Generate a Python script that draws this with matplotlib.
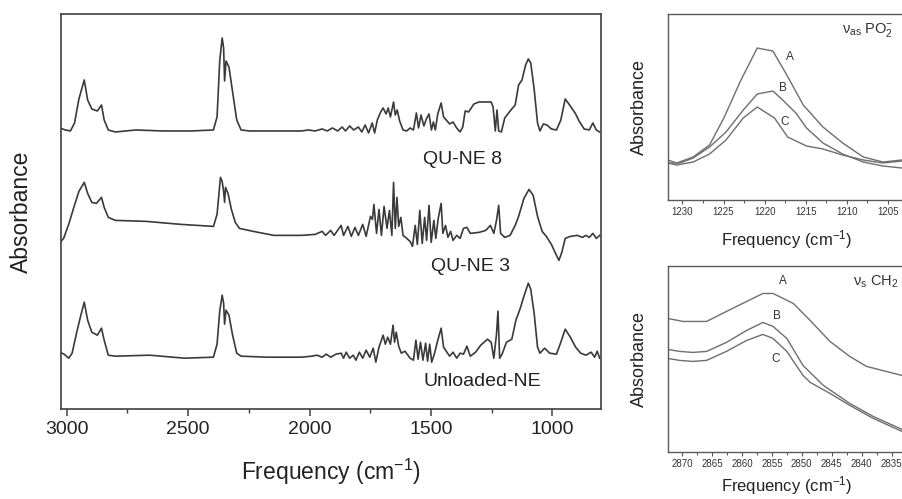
import matplotlib
matplotlib.use("Agg")
import matplotlib.pyplot as plt
from matplotlib.ticker import MultipleLocator

plt.rcParams['font.family'] = ['Liberation Sans', 'DejaVu Sans']
plt.rcParams['mathtext.default'] = 'regular'

# --- main FTIR spectra (wavenumber cm-1, absorbance a.u., stacked) ---
wn_ne8 = [3028, 3006, 2985, 2968, 2950, 2928, 2914, 2897, 2874, 2857, 2846, 2829,
          2800, 2715, 2602, 2488, 2396, 2381, 2370, 2360, 2354, 2350, 2344, 2332,
          2317, 2300, 2282, 2246, 2033, 2005, 1977, 1948, 1927, 1906, 1884, 1866,
          1852, 1835, 1818, 1799, 1785, 1771, 1757, 1742, 1732, 1721, 1707, 1697,
          1685, 1676, 1667, 1654, 1647, 1639, 1629, 1615, 1600, 1586, 1572, 1560,
          1551, 1541, 1529, 1519, 1508, 1498, 1490, 1482, 1472, 1458, 1448, 1437,
          1423, 1409, 1394, 1380, 1369, 1359, 1345, 1323, 1302, 1252, 1244, 1235,
          1228, 1221, 1210, 1196, 1174, 1153, 1139, 1125, 1110, 1099, 1089, 1075,
          1061, 1051, 1037, 1022, 1004, 983, 965, 947, 926, 904, 890, 869, 848,
          833, 819, 805]
ab_ne8 = [0.03, 0.01, 0.00, 0.08, 0.32, 0.51, 0.31, 0.22, 0.20, 0.26, 0.11, 0.01,
          -0.01, 0.01, 0.00, 0.00, 0.01, 0.14, 0.70, 0.93, 0.83, 0.50, 0.70, 0.64,
          0.39, 0.11, 0.01, 0.00, 0.00, 0.01, 0.00, 0.02, 0.00, 0.03, 0.00, 0.04,
          0.00, 0.05, 0.01, 0.04, -0.01, 0.06, -0.02, 0.08, -0.02, 0.11, 0.19, 0.23,
          0.17, 0.23, 0.14, 0.29, 0.16, 0.21, 0.10, 0.01, 0.00, 0.03, 0.01, 0.18,
          0.03, 0.16, 0.05, 0.12, 0.17, 0.01, 0.09, 0.01, 0.17, 0.28, 0.14, 0.11,
          0.07, 0.09, 0.03, -0.01, 0.04, 0.20, 0.19, 0.27, 0.29, 0.29, 0.24, 0.00,
          0.21, 0.00, -0.01, 0.13, 0.20, 0.26, 0.46, 0.51, 0.66, 0.72, 0.68, 0.42,
          0.08, 0.00, 0.07, 0.06, 0.02, 0.01, 0.11, 0.32, 0.25, 0.17, 0.10, 0.02, 0.01,
          0.08, 0.01, -0.01]

wn_ne3 = [3028, 3013, 2992, 2971, 2950, 2928, 2914, 2897, 2878, 2857, 2846, 2829,
          2800, 2673, 2530, 2396, 2381, 2367, 2360, 2354, 2350, 2346, 2336, 2322,
          2306, 2289, 2232, 2147, 2033, 1977, 1948, 1934, 1913, 1899, 1870, 1860,
          1842, 1828, 1813, 1799, 1781, 1767, 1749, 1741, 1735, 1724, 1714, 1704,
          1693, 1681, 1671, 1661, 1654, 1647, 1640, 1633, 1624, 1615, 1600, 1586,
          1576, 1565, 1556, 1546, 1536, 1526, 1518, 1508, 1499, 1488, 1480, 1470,
          1458, 1451, 1440, 1430, 1419, 1409, 1394, 1380, 1366, 1352, 1338, 1302,
          1274, 1255, 1241, 1230, 1221, 1213, 1196, 1174, 1153, 1139, 1117, 1096,
          1079, 1061, 1042, 1025, 1004, 985, 973, 961, 947, 926, 897, 876, 862, 848,
          833, 819, 805]
ab_ne3 = [-0.04, 0.00, 0.14, 0.31, 0.47, 0.56, 0.45, 0.36, 0.35, 0.41, 0.31, 0.21,
          0.18, 0.17, 0.14, 0.12, 0.24, 0.61, 0.57, 0.47, 0.36, 0.51, 0.45, 0.29,
          0.16, 0.10, 0.07, 0.03, 0.03, 0.04, 0.07, 0.03, 0.08, 0.03, 0.13, 0.03,
          0.12, 0.02, 0.11, 0.03, 0.14, 0.02, 0.22, 0.19, 0.34, 0.05, 0.29, 0.03,
          0.32, 0.10, 0.28, 0.03, 0.56, 0.10, 0.41, 0.12, 0.21, 0.03, 0.00, -0.03,
          -0.08, 0.13, -0.06, 0.28, -0.05, 0.21, -0.02, 0.33, -0.04, 0.18, 0.00, 0.20,
          0.35, 0.05, 0.13, 0.01, 0.07, -0.02, 0.03, 0.00, 0.10, 0.11, 0.05, 0.06,
          0.08, 0.13, 0.05, 0.18, 0.33, 0.05, 0.01, 0.03, 0.13, 0.22, 0.40, 0.49,
          0.43, 0.22, 0.07, 0.02, -0.06, -0.16, -0.22, -0.14, 0.00, 0.02, 0.03, 0.01,
          0.03, 0.01, 0.05, 0.00, 0.03]

wn_unl = [3028, 3011, 2992, 2978, 2959, 2942, 2928, 2914, 2897, 2874, 2857, 2846,
          2829, 2800, 2658, 2516, 2396, 2381, 2370, 2360, 2354, 2350, 2344, 2332,
          2317, 2300, 2282, 2175, 2033, 1991, 1970, 1948, 1931, 1913, 1891, 1870,
          1860, 1849, 1835, 1820, 1809, 1795, 1781, 1767, 1752, 1738, 1727, 1714,
          1704, 1697, 1688, 1678, 1667, 1656, 1650, 1643, 1633, 1622, 1607, 1586,
          1572, 1562, 1553, 1543, 1533, 1522, 1514, 1505, 1497, 1485, 1474, 1458,
          1448, 1437, 1423, 1409, 1394, 1380, 1366, 1352, 1338, 1316, 1295, 1267,
          1252, 1241, 1230, 1224, 1217, 1207, 1189, 1167, 1150, 1132, 1117, 1099,
          1089, 1075, 1061, 1051, 1032, 1011, 983, 965, 947, 926, 904, 883, 862,
          840, 826, 815, 805]
ab_unl = [0.04, 0.02, -0.02, 0.03, 0.24, 0.41, 0.54, 0.36, 0.24, 0.21, 0.28, 0.16,
          0.01, 0.00, 0.01, -0.02, -0.01, 0.12, 0.45, 0.61, 0.53, 0.32, 0.46, 0.41,
          0.21, 0.03, 0.00, -0.01, -0.01, 0.00, 0.01, -0.01, 0.02, -0.01, 0.02, 0.03,
          -0.02, 0.04, -0.02, 0.01, -0.04, 0.04, -0.02, 0.06, -0.01, 0.08, -0.06, 0.09,
          0.16, 0.21, 0.12, 0.19, 0.12, 0.31, 0.14, 0.24, 0.10, 0.03, 0.05, -0.02,
          -0.04, 0.16, -0.03, 0.14, -0.04, 0.13, -0.05, 0.12, -0.06, 0.03, 0.14, 0.28,
          0.09, 0.05, 0.00, 0.04, -0.02, 0.03, 0.02, 0.10, 0.00, 0.04, 0.11, 0.17,
          0.14, -0.02, 0.22, 0.45, -0.02, 0.02, 0.14, 0.17, 0.36, 0.48, 0.60, 0.73,
          0.67, 0.43, 0.09, 0.03, 0.08, 0.03, 0.02, 0.14, 0.27, 0.19, 0.09, 0.03, 0.01,
          0.04, -0.01, 0.05, -0.02]

offsets = [2.78, 1.706, 0.528]
names = ['QU-NE 8', 'QU-NE 3', 'Unloaded-NE']
label_x = [1372, 1339, 1290]
label_y = [2.49, 1.42, 0.27]

# --- inset: nu_as PO2- band ---
wn_po_a = [1231.8, 1230.7, 1228.7, 1226.7, 1224.9, 1223.0, 1220.9, 1219.0, 1217.3,
           1215.3, 1212.9, 1210.5, 1208.0, 1205.6, 1203.3]
ab_po_a = [0.40, 0.37, 0.43, 0.55, 0.83, 1.18, 1.52, 1.49, 1.25, 0.95, 0.73, 0.57,
           0.43, 0.38, 0.40]
wn_po_b = [1231.8, 1230.3, 1228.7, 1226.7, 1224.7, 1222.6, 1220.9, 1219.0, 1217.8,
           1216.2, 1214.9, 1212.9, 1210.5, 1208.0, 1205.6, 1203.3]
ab_po_b = [0.37, 0.37, 0.42, 0.53, 0.68, 0.90, 1.06, 1.09, 1.00, 0.87, 0.72, 0.57,
           0.46, 0.38, 0.34, 0.32]
wn_po_c = [1231.8, 1230.7, 1228.7, 1226.7, 1224.7, 1222.6, 1220.9, 1218.8, 1217.2,
           1214.9, 1212.9, 1210.5, 1208.0, 1205.6, 1203.3]
ab_po_c = [0.37, 0.35, 0.38, 0.46, 0.60, 0.82, 0.93, 0.82, 0.63, 0.54, 0.51, 0.45,
           0.40, 0.37, 0.39]

# --- inset: nu_s CH2 band ---
wn_ch_a = [2872.4, 2869.8, 2865.9, 2862.6, 2859.2, 2856.5, 2854.8, 2851.4, 2848.6,
           2845.3, 2842.0, 2839.2, 2833.3]
ab_ch_a = [1.34, 1.31, 1.31, 1.41, 1.51, 1.59, 1.59, 1.49, 1.32, 1.11, 0.96, 0.86, 0.77]
wn_ch_b = [2872.4, 2870.4, 2868.2, 2865.9, 2862.6, 2859.2, 2856.5, 2854.8, 2852.5,
           2849.8, 2846.4, 2842.0, 2838.1, 2833.3]
ab_ch_b = [1.03, 1.01, 1.00, 1.01, 1.10, 1.22, 1.30, 1.26, 1.14, 0.87, 0.67, 0.49,
           0.36, 0.23]
wn_ch_c = [2872.4, 2870.4, 2868.2, 2865.9, 2862.6, 2859.2, 2856.5, 2854.8, 2852.5,
           2849.8, 2848.6, 2845.3, 2842.0, 2838.1, 2833.3]
ab_ch_c = [0.94, 0.92, 0.91, 0.92, 1.01, 1.12, 1.18, 1.14, 1.01, 0.77, 0.70, 0.59,
           0.47, 0.34, 0.21]

main_col = '#3a3a3a'
inset_col = '#6e6e6e'
spine_col = '#404040'

fig = plt.figure(figsize=(9.02, 4.99), dpi=100)

ax = fig.add_axes([0.0673, 0.1804, 0.5987, 0.7916])
for wn, ab, off in zip([wn_ne8, wn_ne3, wn_unl], [ab_ne8, ab_ne3, ab_unl], offsets):
    ax.plot(wn, [a + off for a in ab], color=main_col, lw=1.2)
for name, lx, ly in zip(names, label_x, label_y):
    ax.text(lx, ly, name, ha='center', va='center', fontsize=14, color='#222222')
ax.set_xlim(3025, 800.7)
ax.set_ylim(0, 3.95)
ax.set_yticks([])
ax.xaxis.set_major_locator(MultipleLocator(500))
ax.xaxis.set_minor_locator(MultipleLocator(250))
ax.tick_params(axis='x', which='major', direction='out', length=5, width=1.1,
               labelsize=14, pad=4, colors=spine_col, labelcolor='#222222')
ax.tick_params(axis='x', which='minor', direction='out', length=3, width=1.0,
               colors=spine_col)
for s in ax.spines.values():
    s.set_color(spine_col)
    s.set_linewidth(1.2)
ax.set_xlabel('Frequency (cm$^{-1}$)', fontsize=16.5, color='#222222', labelpad=13)
ax.set_ylabel('Absorbance', fontsize=16.5, color='#222222', labelpad=20)


def inset(rect, xlim, ylim, major, curves, letters, title, title_pos, xpad):
    a = fig.add_axes(rect)
    for wn, ab in curves:
        a.plot(wn, ab, color=inset_col, lw=1.0)
    for txt, (tx, ty) in letters:
        a.text(tx, ty, txt, ha='center', va='center', fontsize=8.5, color='#333333')
    a.text(title_pos[0], title_pos[1], title, ha='left', va='center',
           fontsize=10.5, color='#333333')
    a.set_xlim(*xlim)
    a.set_ylim(*ylim)
    a.set_yticks([])
    a.xaxis.set_major_locator(MultipleLocator(major))
    a.xaxis.set_minor_locator(MultipleLocator(major / 2))
    a.tick_params(axis='x', which='major', direction='out', length=3, width=0.8,
                  labelsize=7, pad=2, colors='#555555', labelcolor='#333333')
    a.tick_params(axis='x', which='minor', direction='out', length=2, width=0.7,
                  colors='#555555')
    for s in a.spines.values():
        s.set_color('#5a5a5a')
        s.set_linewidth(1.0)
    a.set_xlabel('Frequency (cm$^{-1}$)', fontsize=12, color='#222222', labelpad=xpad)
    a.set_ylabel('Absorbance', fontsize=13, color='#222222', labelpad=14)
    return a


inset([0.7402, 0.5992, 0.2642, 0.3727], (1231.8, 1202.8), (0, 1.86), 5,
      [(wn_po_a, ab_po_a), (wn_po_b, ab_po_b), (wn_po_c, ab_po_c)],
      [('A', (1216.9, 1.43)), ('B', (1217.8, 1.12)), ('C', (1217.6, 0.78))],
      r'$\nu_{as}$ PO$_2^{-}$', (1210.6, 1.70), 8)

inset([0.7402, 0.0936, 0.2642, 0.3743], (2872.4, 2832.6), (0, 1.87), 5,
      [(wn_ch_a, ab_ch_a), (wn_ch_b, ab_ch_b), (wn_ch_c, ab_ch_c)],
      [('A', (2853.2, 1.71)), ('B', (2854.1, 1.36)), ('C', (2854.4, 0.93))],
      r'$\nu_{s}$ CH$_2$', (2841.5, 1.71), 3.5)

fig.savefig('out.png', dpi=100)
